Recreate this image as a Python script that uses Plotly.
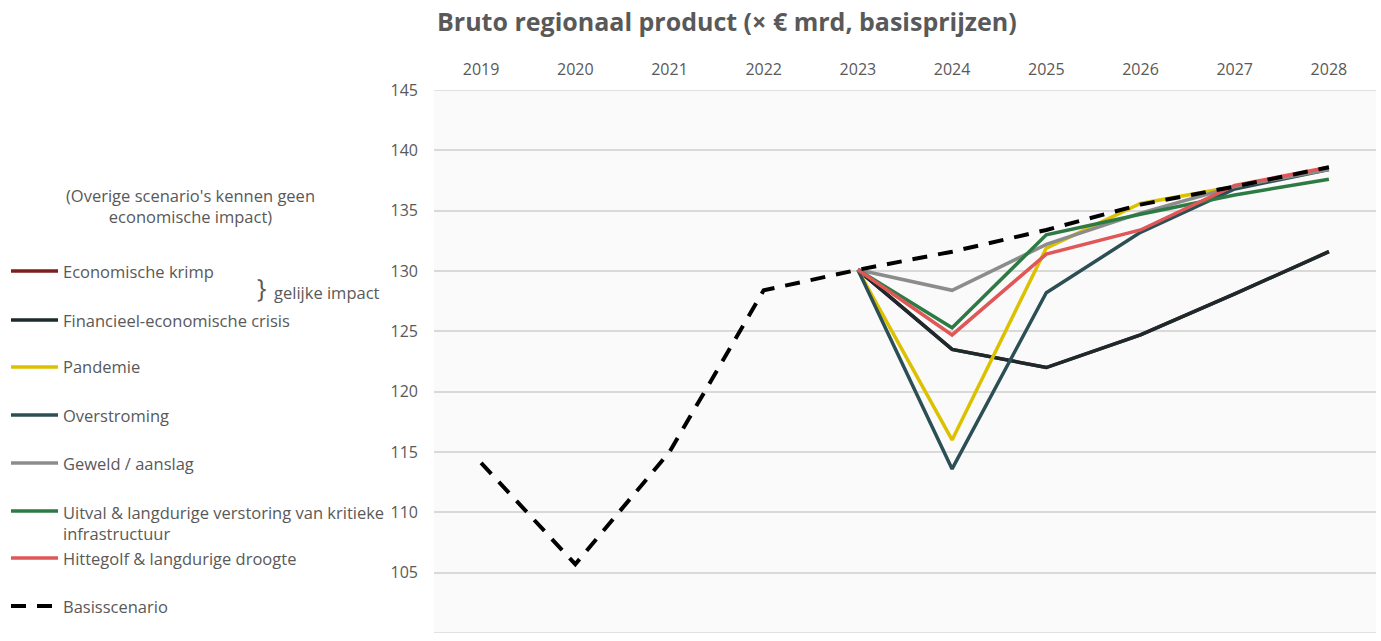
import plotly.graph_objects as go

years = [2019, 2020, 2021, 2022, 2023, 2024, 2025, 2026, 2027, 2028]
scen_years = [2023, 2024, 2025, 2026, 2027, 2028]
y_ticks = [100, 105, 110, 115, 120, 125, 130, 135, 140, 145]

basis = [114.1, 105.7, 115.0, 128.4, 130.1, 131.6, 133.4, 135.5, 137.0, 138.6]
economische_krimp = [130.1, 123.5, 122.0, 124.7, 128.1, 131.6]
financieel = [130.1, 123.5, 122.0, 124.7, 128.1, 131.6]
pandemie = [130.1, 116.0, 131.9, 135.6, 137.0, 138.5]
overstroming = [130.1, 113.6, 128.2, 133.2, 136.8, 138.4]
geweld = [130.1, 128.4, 132.2, 134.8, 137.0, 138.4]
uitval = [130.1, 125.3, 133.0, 134.7, 136.3, 137.6]
hittegolf = [130.1, 124.7, 131.4, 133.4, 137.1, 138.6]

series = [
    ("Economische krimp", economische_krimp, "#7b1f1f"),
    ("Financieel-economische crisis", financieel, "#1b2a2d"),
    ("Pandemie", pandemie, "#dcc100"),
    ("Overstroming", overstroming, "#2c4f55"),
    ("Geweld / aanslag", geweld, "#8c8c8c"),
    ("Uitval & langdurige verstoring van kritieke<br>infrastructuur", uitval, "#2e7a45"),
    ("Hittegolf & langdurige droogte", hittegolf, "#e05757"),
]

FONT = "Open Sans"
TXT = "#595959"
GRID = "#d9d9d9"
FS = 16.5
TFS = 16

fig = go.Figure()
for name, vals, col in series:
    fig.add_trace(go.Scatter(x=scen_years, y=vals, mode="lines", name=name,
                             line=dict(color=col, width=3.5), showlegend=False))
fig.add_trace(go.Scatter(x=years, y=basis, mode="lines", name="Basisscenario",
                         line=dict(color="#000000", width=4, dash="15px,11px"),
                         showlegend=False))

# plot area in pixels
L, R, T, B = 434, 1376, 90, 633
W, H = R - L, B - T


def px(x):
    return (x - L) / W


def py(y):
    return (B - y) / H


shapes = []
annotations = []

# gridlines on the edges of the value range (Plotly skips those)
for v in (y_ticks[0], y_ticks[-1]):
    shapes.append(dict(type="line", xref="paper", yref="y", x0=0, x1=1, y0=v, y1=v,
                       layer="below", line=dict(color=GRID, width=1.5)))

legend_y = [271, 320, 367, 415, 463, 511, 558]
for (name, vals, col), yy in zip(series, legend_y):
    shapes.append(dict(type="line", xref="paper", yref="paper",
                       x0=px(11), x1=px(58), y0=py(yy), y1=py(yy),
                       line=dict(color=col, width=3.5)))
    if "<br>" in name:
        annotations.append(dict(xref="paper", yref="paper", x=px(61), y=py(yy - 12),
                                xanchor="left", yanchor="top", align="left",
                                text=name, showarrow=False,
                                font=dict(family=FONT, size=FS, color=TXT)))
    else:
        annotations.append(dict(xref="paper", yref="paper", x=px(61), y=py(yy),
                                xanchor="left", yanchor="middle", align="left",
                                text=name, showarrow=False,
                                font=dict(family=FONT, size=FS, color=TXT)))
# basis legend (dashed)
shapes.append(dict(type="line", xref="paper", yref="paper",
                   x0=px(11), x1=px(58), y0=py(606), y1=py(606),
                   line=dict(color="#000000", width=4, dash="15px,11px")))
annotations.append(dict(xref="paper", yref="paper", x=px(61), y=py(606),
                        xanchor="left", yanchor="middle", text="Basisscenario",
                        showarrow=False, font=dict(family=FONT, size=FS, color=TXT)))

annotations.append(dict(xref="paper", yref="paper", x=px(190), y=py(206),
                        xanchor="center", yanchor="middle", align="center",
                        text="(Overige scenario's kennen geen<br>economische impact)",
                        showarrow=False, font=dict(family=FONT, size=FS, color=TXT)))
annotations.append(dict(xref="paper", yref="paper", x=px(255), y=py(287),
                        xanchor="left", yanchor="middle", text="}",
                        showarrow=False, font=dict(family=FONT, size=25, color=TXT)))
annotations.append(dict(xref="paper", yref="paper", x=px(272), y=py(292),
                        xanchor="left", yanchor="middle", text="gelijke impact",
                        showarrow=False, font=dict(family=FONT, size=FS, color=TXT)))

fig.update_layout(
    width=1381, height=641,
    margin=dict(l=L, r=1381 - R, t=T, b=641 - B),
    paper_bgcolor="#ffffff",
    plot_bgcolor="#fafafa",
    title=dict(text="<b>Bruto regionaal product (× € mrd, basisprijzen)</b>",
               x=px(437), xanchor="left", xref="paper",
               y=1 - 22 / 641, yanchor="middle",
               font=dict(family=FONT, size=25, color=TXT)),
    xaxis=dict(range=[2018.5, 2028.5], side="top", tickmode="array",
               tickvals=years, ticktext=[str(y) for y in years],
               showgrid=False, zeroline=False, showline=False,
               ticks="", ticklabelstandoff=11,
               tickfont=dict(family=FONT, size=TFS, color=TXT)),
    yaxis=dict(range=[y_ticks[0], y_ticks[-1]], tickmode="array",
               tickvals=y_ticks,
               showgrid=True, gridcolor=GRID, gridwidth=1.5,
               zeroline=False, showline=False, ticks="", ticklabelstandoff=15,
               tickfont=dict(family=FONT, size=TFS, color=TXT)),
    shapes=shapes,
    annotations=annotations,
    showlegend=False,
)

fig.write_html(
    "out.html", config={"displayModeBar": False},
    post_script=("document.body.style.margin='0';"
                 "document.body.style.overflow='hidden';"
                 "document.documentElement.style.overflow='hidden';"),
)
